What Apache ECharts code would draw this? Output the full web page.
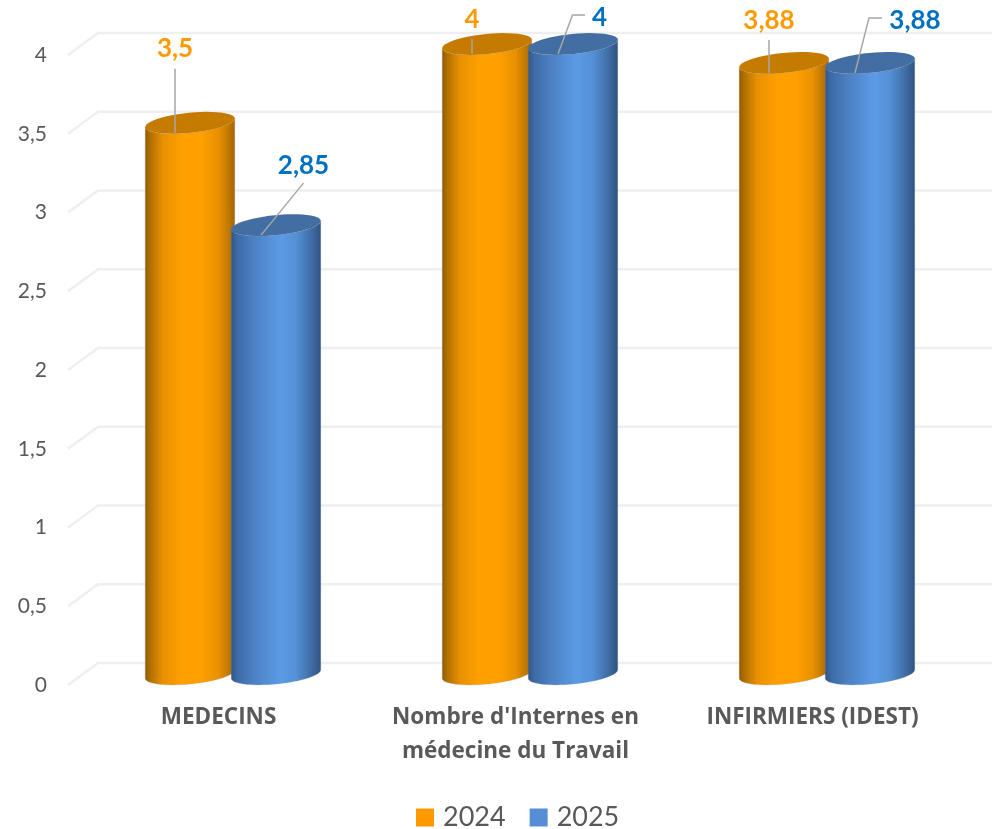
<!DOCTYPE html>
<html>
<head>
<meta charset="utf-8">
<style>html,body{margin:0;padding:0;background:#fff}#c{width:992px;height:829px}</style>
<script src="https://cdn.jsdelivr.net/npm/echarts@6/dist/echarts.min.js"></script>
</head>
<body>
<div id="c"></div>
<script>
var categories = ["MEDECINS", "Nombre d'Internes en\nmédecine du Travail", "INFIRMIERS (IDEST)"];
var values2024 = [3.5, 4, 3.88];
var values2025 = [2.85, 4, 3.88];
var yTicks = [0, 0.5, 1, 1.5, 2, 2.5, 3, 3.5, 4];

// Drawing layout of the pseudo-3D cylinders and their leader lines (offsets in pixels)
var DEPTH_X = 14.5, DEPTH_Y = -11, BAR_SHIFT = 43, RX = 45, RY = 10, TILT = -5.7 * Math.PI / 180;
var leader2024 = [
  {line: [[0, -64]], label: [0, -84]},
  {line: [[0, -15]], label: [0, -34]},
  {line: [[0, -33]], label: [0, -52]}
];
var leader2025 = [
  {line: [[42.5, -52]], label: [42.5, -70]},
  {line: [[14.5, -39], [27, -39]], label: [41.5, -36]},
  {line: [[14, -55], [27, -55]], label: [60, -52]}
];
var orangeStyle = {
  top: '#C47B00', label: '#FF9900',
  stops: [[0, '#8F5A00'], [0.06, '#B06F00'], [0.2, '#E89000'], [0.42, '#FFA000'], [0.62, '#FFA000'], [0.82, '#E89000'], [0.95, '#B57200'], [1, '#A36600']]
};
var blueStyle = {
  top: '#436EA4', label: '#0070C0',
  stops: [[0, '#2F5585'], [0.07, '#3D6BA5'], [0.25, '#4C80C2'], [0.55, '#5B9BE6'], [0.72, '#5490D6'], [0.88, '#406FA8'], [1, '#2F527F']]
};

function ellipsePoint(cx, cy, t) {
  var ex = RX * Math.cos(t), ey = RY * Math.sin(t);
  return [cx + ex * Math.cos(TILT) - ey * Math.sin(TILT), cy + ex * Math.sin(TILT) + ey * Math.cos(TILT)];
}
function arc(cx, cy, from, to) {
  var pts = [], n = 48;
  for (var i = 0; i <= n; i++) pts.push(ellipsePoint(cx, cy, from + (to - from) * i / n));
  return pts;
}
function gradient(stops) {
  return {type: 'linear', x: 0, y: 0, x2: 1, y2: 0,
    colorStops: stops.map(function (s) { return {offset: s[0], color: s[1]}; })};
}
function barCenter(api, sign) {
  var top = api.coord([api.value(0), api.value(1)]);
  var base = api.coord([api.value(0), 0]);
  var cx = top[0] + DEPTH_X + sign * BAR_SHIFT;
  return {cx: cx, top: top[1] + DEPTH_Y, base: base[1] + DEPTH_Y};
}
function cylinderRenderer(sign, look) {
  return function (params, api) {
    var c = barCenter(api, sign);
    var bodyPts = arc(c.cx, c.base, Math.PI, 0).concat(arc(c.cx, c.top, 0, Math.PI));
    return {type: 'group', children: [
      {type: 'polygon', shape: {points: bodyPts}, style: {fill: gradient(look.stops), stroke: 'rgba(150,150,150,0.25)', lineWidth: 1}},
      {type: 'polygon', shape: {points: arc(c.cx, c.top, 0, 2 * Math.PI)}, style: {fill: look.top}}
    ]};
  };
}
function labelRenderer(sign, look, leaders) {
  return function (params, api) {
    var c = barCenter(api, sign);
    var ax = c.cx - 15, ay = c.top + 10;
    var lay = leaders[params.dataIndex];
    var pts = [[ax, ay]].concat(lay.line.map(function (p) { return [ax + p[0], ay + p[1]]; }));
    return {type: 'group', children: [
      {type: 'polyline', shape: {points: pts}, style: {fill: 'none', stroke: '#A6A6A6', lineWidth: 1.5}},
      {type: 'text', style: {
        text: String(api.value(1)).replace('.', ','),
        x: ax + lay.label[0], y: ay + lay.label[1],
        fill: look.label, font: 'bold 26px Lato', align: 'center', verticalAlign: 'middle'}}
    ]};
  };
}
function pairs(arr) { return arr.map(function (v, i) { return [i, v]; }); }

var chart = echarts.init(document.getElementById('c'), null, {renderer: 'canvas'});
chart.setOption({
  animation: false,
  backgroundColor: '#fff',
  textStyle: {fontFamily: 'Lato'},
  grid: {left: 70, right: 31, top: 55, bottom: 144, containLabel: false},
  legend: {
    data: ['2024', '2025'], bottom: -7, left: 411, itemWidth: 18, itemHeight: 18, itemGap: 24, icon: 'rect',
    textStyle: {fontFamily: 'Lato', fontSize: 27, color: '#595959', padding: [0, 0, 0, 4]}
  },
  xAxis: {
    type: 'category', data: categories,
    axisLine: {show: false}, axisTick: {show: false}, splitLine: {show: false},
    axisLabel: {fontFamily: 'Open Sans', fontWeight: 'bold', fontSize: 22.5, color: '#595959', margin: 16, lineHeight: 34, interval: 0}
  },
  yAxis: {
    type: 'value', min: 0, max: 4, interval: 0.5,
    axisLine: {show: false}, axisTick: {show: false}, splitLine: {show: false},
    axisLabel: {fontFamily: 'Lato', fontSize: 21, color: '#595959', margin: 23,
      formatter: function (v) { return String(v).replace('.', ','); }}
  },
  series: [
    {
      type: 'custom', name: 'wall', silent: true, clip: false, z: 1, encode: {x: 0, y: 1},
      data: yTicks.map(function (t) { return [0, t]; }),
      renderItem: function (params, api) {
        var y = api.coord([0, api.value(1)])[1], g = params.coordSys;
        return {type: 'polyline', shape: {points: [[g.x - 2, y], [g.x + 28, y - 22], [992, y - 22]]},
          style: {fill: 'none', stroke: '#EFEFEF', lineWidth: 2.5}};
      }
    },
    {type: 'custom', name: '2024', clip: false, z: 2, encode: {x: 0, y: 1}, itemStyle: {color: '#FF9900'},
      data: pairs(values2024), renderItem: cylinderRenderer(-1, orangeStyle)},
    {type: 'custom', name: '2025', clip: false, z: 3, encode: {x: 0, y: 1}, itemStyle: {color: '#558ED5'},
      data: pairs(values2025), renderItem: cylinderRenderer(1, blueStyle)},
    {type: 'custom', name: 'labels2024', clip: false, z: 4, encode: {x: 0, y: 1},
      data: pairs(values2024), renderItem: labelRenderer(-1, orangeStyle, leader2024)},
    {type: 'custom', name: 'labels2025', clip: false, z: 4, encode: {x: 0, y: 1},
      data: pairs(values2025), renderItem: labelRenderer(1, blueStyle, leader2025)}
  ]
});
</script>
</body>
</html>
